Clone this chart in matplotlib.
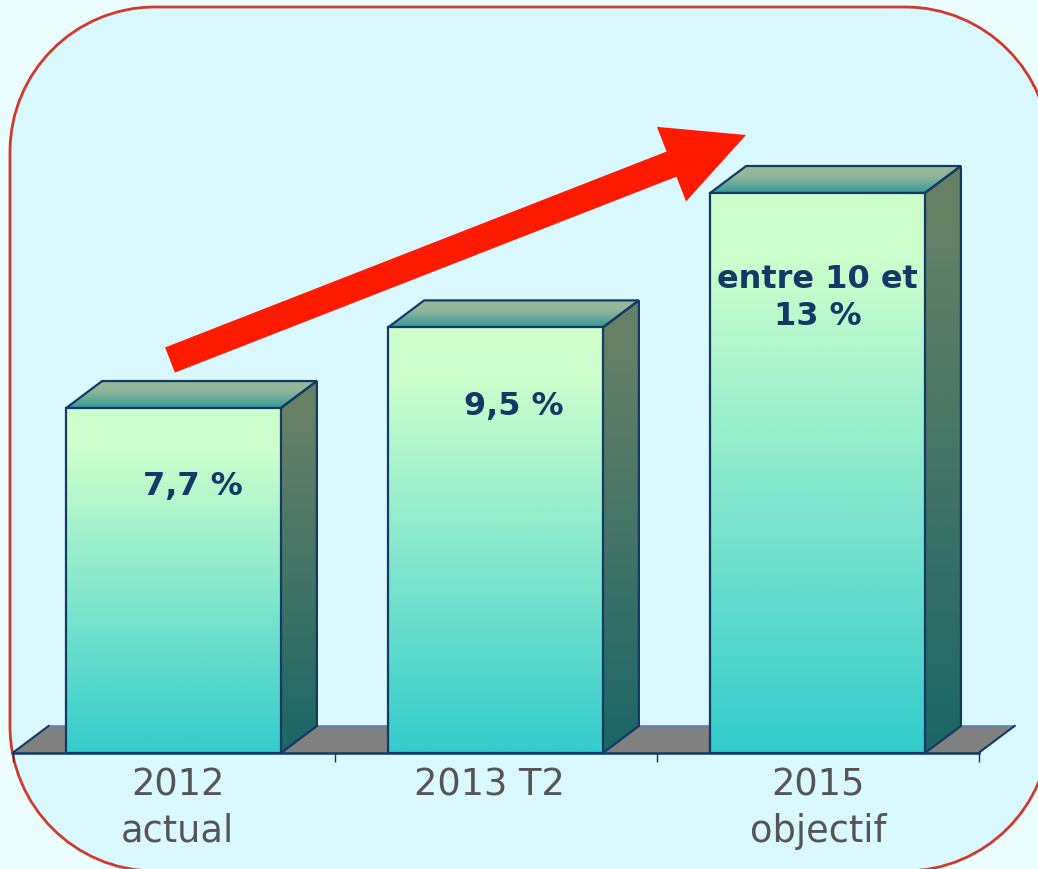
import numpy as np
import matplotlib
matplotlib.use('Agg')
import matplotlib.pyplot as plt
import matplotlib.patches as mpatches
from matplotlib.colors import LinearSegmentedColormap
from matplotlib.path import Path
from matplotlib.transforms import ScaledTranslation

# donnees
categories = ['2012\nactual', '2013 T2', '2015\nobjectif']
values = [7.7, 9.5, 12.5]
bar_labels = ['7,7 %', '9,5 %', 'entre 10 et\n13 %']
label_dx = [19, 18, 0]     # decalage des etiquettes en px
label_dy = [78, 79, 105]
tick_dx = [4, -6, 1]       # les etiquettes d'axe ne sont pas tout a fait centrees

W, H = 1038, 869
navy = '#123A64'
px_per_unit = 44.8
px_per_cat = 322.0
base_px = 753
x0_px = 173.5
depth_x = 36 / px_per_cat
depth_y = 27 / px_per_unit
bar_w = 0.667

fig = plt.figure(figsize=(W / 100, H / 100), dpi=100, facecolor='#EBFDFF')


def round_rect(x1, y1, x2, y2, r):
    # rectangle a coins circulaires (le boxstyle round donne des coins trop carres)
    k = r * (1 - 0.5523)
    verts = [(x1 + r, y1), (x2 - r, y1), (x2 - k, y1), (x2, y1 + k), (x2, y1 + r),
             (x2, y2 - r), (x2, y2 - k), (x2 - k, y2), (x2 - r, y2),
             (x1 + r, y2), (x1 + k, y2), (x1, y2 - k), (x1, y2 - r),
             (x1, y1 + r), (x1, y1 + k), (x1 + k, y1), (x1 + r, y1), (x1 + r, y1)]
    codes = [Path.MOVETO, Path.LINETO, Path.CURVE4, Path.CURVE4, Path.CURVE4,
             Path.LINETO, Path.CURVE4, Path.CURVE4, Path.CURVE4,
             Path.LINETO, Path.CURVE4, Path.CURVE4, Path.CURVE4,
             Path.LINETO, Path.CURVE4, Path.CURVE4, Path.CURVE4, Path.CLOSEPOLY]
    return Path(verts, codes)


# fond : panneau arrondi + fleche, en pixels
bg = fig.add_axes([0, 0, 1, 1], zorder=0)
bg.set_xlim(0, W)
bg.set_ylim(H, 0)
bg.axis('off')
bg.add_patch(mpatches.PathPatch(round_rect(10, 7, 1050, 871, 145), facecolor='#D9F8FF',
                                edgecolor='#D03A2E', linewidth=2))
bg.add_patch(mpatches.FancyArrow(170, 360, 576, -225, width=27, head_width=80, head_length=80,
                                 length_includes_head=True, color='#FF1A00', linewidth=0))

# axes des donnees
ax = fig.add_axes([0, 0, 1, 1], zorder=1)
ax.patch.set_visible(False)
xlim = (-x0_px / px_per_cat, (W - x0_px) / px_per_cat)
ylim = (-(H - base_px) / px_per_unit, base_px / px_per_unit)


def grad(poly, x1, x2, y1, y2, stops, z):
    # degrade vertical, coupe par le polygone
    cmap = LinearSegmentedColormap.from_list('g', stops)
    im = ax.imshow(np.linspace(0, 1, 256).reshape(-1, 1), cmap=cmap, aspect='auto',
                   extent=(x1, x2, y1, y2), origin='upper', zorder=z)
    im.set_clip_path(poly)


front_stops = [(0, '#CCFFCC'), (0.12, '#CCFFCC'), (1, '#33CCCC')]
side_stops = [(0, '#668066'), (0.1, '#668066'), (1, '#1A6666')]
top_stops = [(0, '#99BB99'), (0.4, '#90B59B'), (1, '#339999')]

# sol gris
n = len(categories)
floor = mpatches.Polygon([(-0.5, 0), (-0.5 + depth_x, depth_y), (n - 0.5 + depth_x, depth_y), (n - 0.5, 0)],
                         closed=True, facecolor='#808080', edgecolor='none', zorder=1)
ax.add_patch(floor)
ax.plot([-0.5 + depth_x, n - 0.5 + depth_x], [depth_y, depth_y], color='#5F86A8', lw=1.2, zorder=1)
ax.plot([-0.5, -0.5 + depth_x], [0, depth_y], color=navy, lw=1.5, zorder=1)
ax.plot([n - 0.5, n - 0.5 + depth_x], [0, depth_y], color=navy, lw=1.5, zorder=1)

for i, v in enumerate(values):
    l, r = i - bar_w / 2, i + bar_w / 2
    # face de droite
    side = mpatches.Polygon([(r, 0), (r + depth_x, depth_y), (r + depth_x, v + depth_y), (r, v)],
                            closed=True, facecolor='none', edgecolor=navy, linewidth=1.6, zorder=3)
    ax.add_patch(side)
    grad(side, r, r + depth_x, 0, v + depth_y, side_stops, 2)
    # dessus
    top = mpatches.Polygon([(l, v), (l + depth_x, v + depth_y), (r + depth_x, v + depth_y), (r, v)],
                           closed=True, facecolor='none', edgecolor=navy, linewidth=1.6, zorder=3)
    ax.add_patch(top)
    grad(top, l, r + depth_x, v, v + depth_y, top_stops, 2)

bars = ax.bar(range(n), values, width=bar_w, facecolor='none', edgecolor=navy, linewidth=1.6, zorder=5)
for b in bars:
    grad(b, b.get_x(), b.get_x() + b.get_width(), 0, b.get_height(), front_stops, 4)

for i, v in enumerate(values):
    ax.annotate(bar_labels[i], (i, v), xytext=(label_dx[i] * 0.72, -label_dy[i] * 0.72),
                textcoords='offset points', ha='center', va='center', fontsize=23,
                fontweight='bold', color=navy, linespacing=1.22, zorder=6)

ax.set_xlim(*xlim)
ax.set_ylim(*ylim)
for s in ['top', 'left', 'right']:
    ax.spines[s].set_visible(False)
ax.spines['bottom'].set_position(('data', 0))
ax.spines['bottom'].set_bounds(-0.5, n - 0.5)
ax.spines['bottom'].set_color(navy)
ax.spines['bottom'].set_linewidth(1.8)
ax.spines['bottom'].set_zorder(7)
ax.set_yticks([])
ax.set_xticks(np.arange(n + 1) - 0.5)
ax.set_xticklabels([])
ax.tick_params(axis='x', which='major', length=6.5, width=1, color=navy, direction='out')
ax.set_xticks(range(n), minor=True)
ax.set_xticklabels(categories, minor=True, fontsize=26.5, color='#555555', linespacing=1.3)
ax.tick_params(axis='x', which='minor', length=0, pad=10)
for lab, dx in zip(ax.get_xticklabels(minor=True), tick_dx):
    lab.set_transform(lab.get_transform() + ScaledTranslation(dx / 100, 0, fig.dpi_scale_trans))

fig.savefig('out.png', dpi=100, facecolor=fig.get_facecolor())
